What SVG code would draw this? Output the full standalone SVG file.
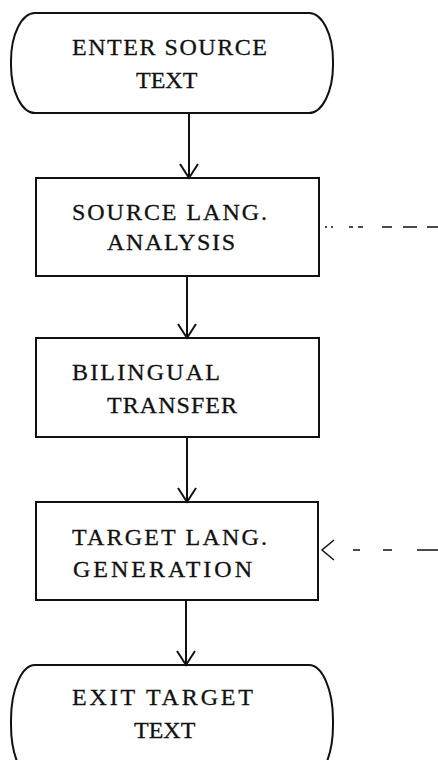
<svg xmlns="http://www.w3.org/2000/svg" width="438" height="760" viewBox="0 0 438 760">
<style>
.shape{fill:#fff;stroke:#111;stroke-width:2}
.t{font-family:"Liberation Serif","DejaVu Serif",serif;font-size:24px;fill:#111;stroke:#111;stroke-width:0.3}
.c{stroke:#111;stroke-width:2;fill:none}
.d{stroke:#111;stroke-width:1.5;fill:none}
</style>
<rect width="438" height="760" fill="#fff"/>
<g id="enter">
<rect class="shape" x="11" y="13" width="322" height="100" rx="24" ry="48"/>
<text class="t" x="72" y="55" textLength="195" lengthAdjust="spacing">ENTER SOURCE</text>
<text class="t" x="136" y="88">TEXT</text>
</g>
<g id="analysis">
<rect class="shape" x="36" y="178" width="283" height="98"/>
<text class="t" x="72" y="220" textLength="195" lengthAdjust="spacing">SOURCE LANG.</text>
<text class="t" x="107" y="250" textLength="128" lengthAdjust="spacing">ANALYSIS</text>
</g>
<g id="transfer">
<rect class="shape" x="36" y="338" width="283" height="99"/>
<text class="t" x="72" y="380" textLength="148" lengthAdjust="spacing">BILINGUAL</text>
<text class="t" x="107" y="413" textLength="130" lengthAdjust="spacing">TRANSFER</text>
</g>
<g id="generation">
<rect class="shape" x="36" y="502" width="282" height="98"/>
<text class="t" x="72" y="545" textLength="195" lengthAdjust="spacing">TARGET LANG.</text>
<text class="t" x="73" y="577" textLength="179" lengthAdjust="spacing">GENERATION</text>
</g>
<g id="exit">
<rect class="shape" x="11" y="665" width="322" height="115" rx="24" ry="55"/>
<text class="t" x="72" y="705" textLength="181" lengthAdjust="spacing">EXIT TARGET</text>
<text class="t" x="134" y="738">TEXT</text>
</g>
<g id="connectors">
<path class="c" d="M189 113V178M180 164L189 178L198 164"/>
<path class="c" d="M187 276V338M178 324L187 338L196 324"/>
<path class="c" d="M187 437V502M178 488L187 502L196 488"/>
<path class="c" d="M186 600V665M177 651L186 665L195 651"/>
<path class="d" d="M325 227H438" stroke-dasharray="2 4 2 16 4 5 5 19 10 11 14 10 11 10"/>
<path class="d" d="M438 550H322" stroke-dasharray="21 25 9 23 7 100"/>
<path class="d" d="M334 540L322 550L334 560"/>
</g>
</svg>
